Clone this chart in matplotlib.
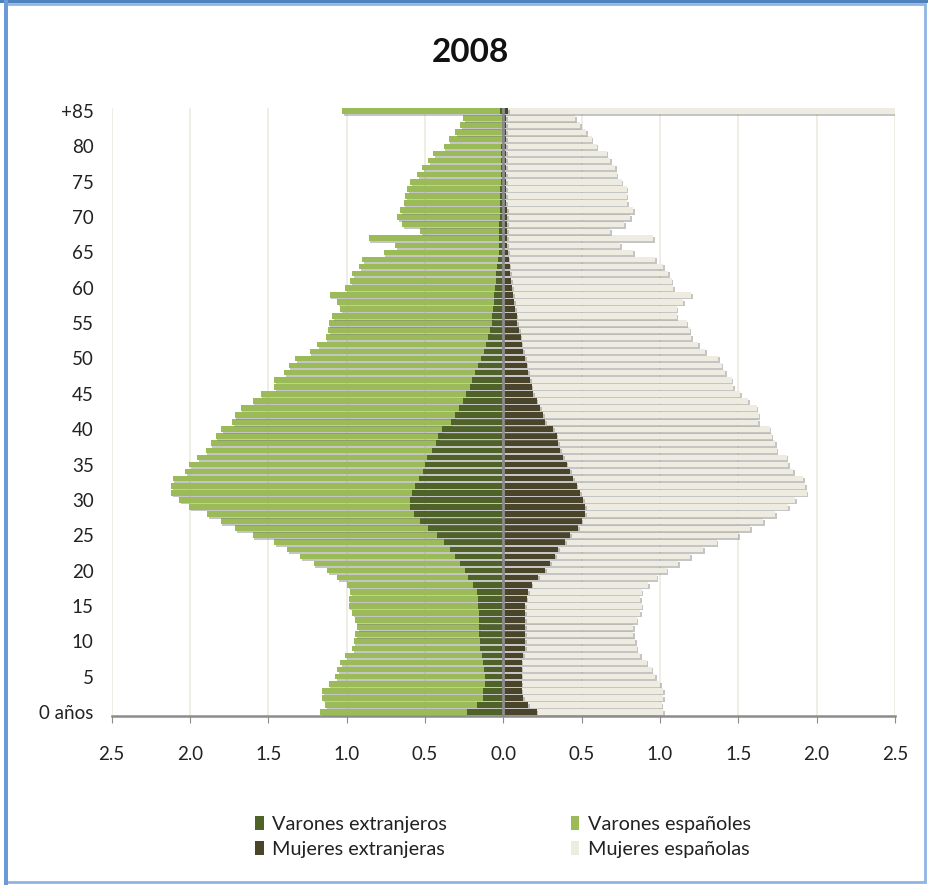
import matplotlib
matplotlib.use("Agg")
import matplotlib.pyplot as plt
import matplotlib.patheffects as pe
from matplotlib.patches import Rectangle, Patch
import numpy as np

plt.rcParams['font.family'] = ['Lato', 'DejaVu Sans']

# ages 0 .. 84 and "+85" (index 85)
ages = list(range(86))
tick_ages = [0, 5, 10, 15, 20, 25, 30, 35, 40, 45, 50, 55, 60, 65, 70, 75, 80, 85]
tick_labels = ["0 años", "5", "10", "15", "20", "25", "30", "35", "40", "45",
               "50", "55", "60", "65", "70", "75", "80", "+85"]

# Totals (% of population), age 0 -> +85
varones_total = [
    1.168, 1.136, 1.157, 1.157, 1.115, 1.072, 1.060, 1.040, 1.008, 0.966,
    0.955, 0.945, 0.934, 0.945, 0.966, 0.987, 0.987, 0.977, 0.998, 1.060,
    1.125, 1.210, 1.295, 1.380, 1.465, 1.600, 1.710, 1.805, 1.890, 2.006,
    2.070, 2.120, 2.120, 2.110, 2.030, 2.006, 1.953, 1.900, 1.868, 1.836,
    1.800, 1.730, 1.715, 1.677, 1.600, 1.550, 1.465, 1.465, 1.400, 1.370,
    1.327, 1.236, 1.190, 1.135, 1.120, 1.114, 1.093, 1.040, 1.061, 1.108,
    1.008, 0.976, 0.966, 0.920, 0.900, 0.764, 0.690, 0.860, 0.530, 0.647,
    0.679, 0.658, 0.637, 0.626, 0.615, 0.594, 0.552, 0.520, 0.478, 0.446,
    0.382, 0.350, 0.308, 0.276, 0.255, 1.030]

varones_extranjeros = [
    0.234, 0.170, 0.127, 0.127, 0.117, 0.117, 0.125, 0.127, 0.138, 0.149,
    0.152, 0.155, 0.155, 0.155, 0.156, 0.159, 0.159, 0.170, 0.191, 0.223,
    0.244, 0.276, 0.308, 0.340, 0.382, 0.425, 0.478, 0.530, 0.573, 0.594,
    0.594, 0.583, 0.562, 0.540, 0.510, 0.500, 0.485, 0.456, 0.430, 0.415,
    0.390, 0.335, 0.310, 0.285, 0.260, 0.240, 0.215, 0.200, 0.180, 0.160,
    0.140, 0.125, 0.110, 0.096, 0.085, 0.075, 0.070, 0.066, 0.062, 0.058,
    0.055, 0.050, 0.045, 0.040, 0.035, 0.030, 0.028, 0.027, 0.025, 0.025,
    0.020, 0.020, 0.020, 0.020, 0.020, 0.015, 0.015, 0.015, 0.013, 0.012,
    0.012, 0.011, 0.010, 0.010, 0.010, 0.020]

mujeres_total = [
    1.020, 1.010, 1.020, 1.020, 1.000, 0.968, 0.947, 0.915, 0.872, 0.851,
    0.840, 0.830, 0.830, 0.851, 0.872, 0.883, 0.872, 0.883, 0.925, 0.978,
    1.042, 1.117, 1.191, 1.276, 1.361, 1.500, 1.574, 1.660, 1.734, 1.819,
    1.862, 1.936, 1.925, 1.915, 1.851, 1.819, 1.808, 1.745, 1.734, 1.713,
    1.700, 1.627, 1.630, 1.617, 1.564, 1.510, 1.468, 1.457, 1.415, 1.393,
    1.372, 1.287, 1.245, 1.200, 1.190, 1.170, 1.106, 1.106, 1.149, 1.200,
    1.085, 1.074, 1.053, 1.020, 0.968, 0.830, 0.745, 0.957, 0.680, 0.770,
    0.810, 0.830, 0.790, 0.787, 0.787, 0.755, 0.723, 0.713, 0.680, 0.660,
    0.596, 0.564, 0.530, 0.490, 0.457, 2.600]

mujeres_extranjeras = [
    0.213, 0.160, 0.125, 0.117, 0.117, 0.117, 0.117, 0.117, 0.128, 0.138,
    0.138, 0.138, 0.138, 0.138, 0.138, 0.138, 0.149, 0.160, 0.181, 0.223,
    0.266, 0.298, 0.330, 0.350, 0.394, 0.425, 0.479, 0.500, 0.521, 0.521,
    0.510, 0.489, 0.468, 0.447, 0.425, 0.404, 0.383, 0.362, 0.350, 0.340,
    0.319, 0.266, 0.255, 0.234, 0.213, 0.190, 0.180, 0.170, 0.160, 0.149,
    0.138, 0.128, 0.117, 0.110, 0.100, 0.090, 0.085, 0.075, 0.070, 0.063,
    0.055, 0.050, 0.045, 0.040, 0.035, 0.030, 0.025, 0.025, 0.025, 0.025,
    0.025, 0.025, 0.020, 0.020, 0.020, 0.020, 0.020, 0.020, 0.020, 0.020,
    0.020, 0.020, 0.020, 0.020, 0.020, 0.030]

colors = {"Varones extranjeros": "#4F6228", "Varones españoles": "#9BBB59",
          "Mujeres extranjeras": "#4A452A", "Mujeres españolas": "#EEECE1"}

y = np.array(ages)
vx = np.array(varones_extranjeros)
vt = np.array(varones_total)
mx = np.array(mujeres_extranjeras)
mt = np.array(mujeres_total)
ve = vt - vx
me = mt - mx

W, H = 929, 885
fig = plt.figure(figsize=(W / 100, H / 100), dpi=100)
fig.patch.set_facecolor("white")

ax = fig.add_axes([111.7 / W, 1 - 715.5 / H, (895 - 111.7) / W, (715.5 - 107.5) / H])

shadow = [pe.SimplePatchShadow(offset=(1.2, -1.2), shadow_rgbFace="#7f7f7f", alpha=0.45),
          pe.Normal()]
bh = 0.8
ax.barh(y, -ve, left=-vx, height=bh, color=colors["Varones españoles"],
        edgecolor="none", path_effects=shadow, zorder=2)
ax.barh(y, -vx, height=bh, color=colors["Varones extranjeros"],
        edgecolor="none", path_effects=shadow, zorder=3)
ax.barh(y, me, left=mx, height=bh, color=colors["Mujeres españolas"],
        edgecolor="none", path_effects=shadow, zorder=2)
ax.barh(y, mx, height=bh, color=colors["Mujeres extranjeras"],
        edgecolor="none", path_effects=shadow, zorder=3)

ax.set_xlim(-2.5, 2.5)
ax.set_ylim(-0.5, 85.5)
xt = np.arange(-2.5, 2.51, 0.5)
ax.set_xticks(xt)
ax.set_xticklabels([f"{abs(v):.1f}" for v in xt], fontsize=13.5, color="#222222")
ax.set_yticks(tick_ages)
ax.set_yticklabels(tick_labels, fontsize=13.5, color="#222222")
ax.tick_params(axis="y", length=0, pad=13)
ax.tick_params(axis="x", direction="out", length=5, color="#8c8c8c", pad=17)

for v in xt:
    ax.axvline(v, color="#ECEADF", lw=1.2, zorder=0)
ax.axvline(0, color="#8c8c8c", lw=2.0, zorder=5)

for s in ["left", "right", "top"]:
    ax.spines[s].set_visible(False)
ax.spines["bottom"].set_color("#8c8c8c")
ax.spines["bottom"].set_linewidth(1.8)

fig.text(470 / W, 1 - 53 / H, "2008", ha="center", va="center",
         fontsize=24, fontweight="bold", color="#111111")

order = ["Varones extranjeros", "Mujeres extranjeras", "Varones españoles", "Mujeres españolas"]
handles = [Patch(facecolor=colors[n], edgecolor="none") for n in order]
fig.legend(handles, order, ncol=2, loc="center", bbox_to_anchor=(503 / W, 1 - 837 / H),
           frameon=False, fontsize=14.3, handlelength=0.45, handleheight=0.7,
           handletextpad=0.45, columnspacing=6.2, labelspacing=0.38,
           labelcolor="#222222")

# outer chart border
fig.add_artist(Rectangle((6 / W, 3 / H), (W - 10) / W, (H - 7) / H, transform=fig.transFigure,
                         fill=False, edgecolor="#8EB4E3", lw=2.0))
fig.add_artist(Rectangle((0, (H - 3) / H), 1, 3 / H, transform=fig.transFigure,
                         facecolor="#4F81BD", edgecolor="none"))
fig.add_artist(Rectangle((4 / W, 0), 4 / W, 1, transform=fig.transFigure,
                         facecolor="#6A9BD6", edgecolor="none"))

fig.savefig("out.png", dpi=100, facecolor="white")
